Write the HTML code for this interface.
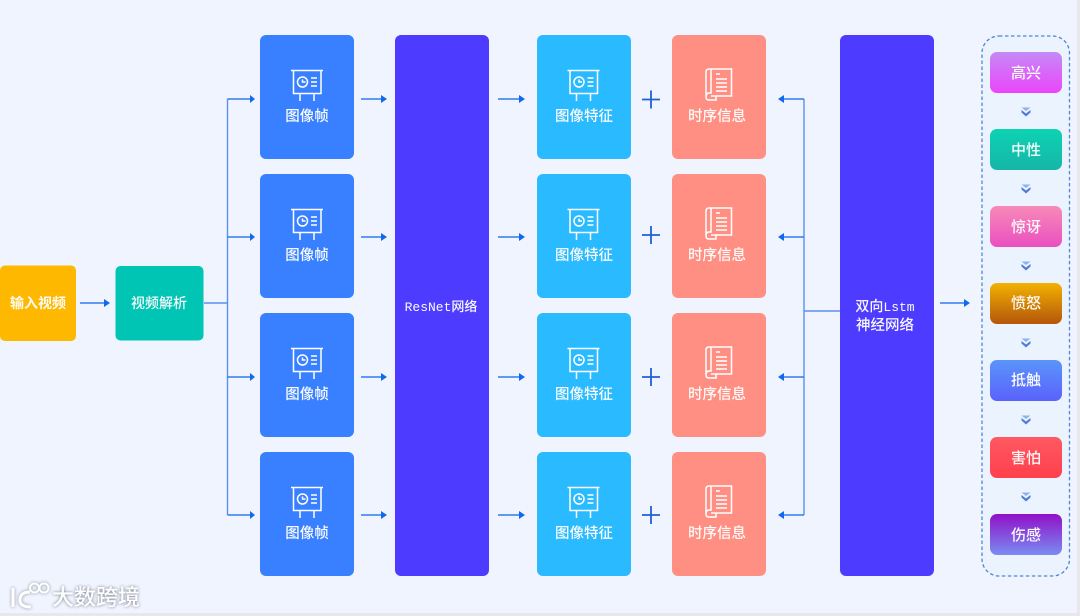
<!DOCTYPE html>
<html lang="zh"><head><meta charset="utf-8"><title>视频情感识别流程</title>
<style>
html,body{margin:0;padding:0;background:#f0f4ff}
svg{display:block;font-size:14.5px;filter:blur(.3px)}
text{font-family:"Liberation Sans","Noto Sans CJK SC",sans-serif;fill:#fff;text-anchor:middle;opacity:.97;font-weight:500}
.m{font-family:"Liberation Mono","Noto Sans CJK SC",monospace}
.l{stroke:#5b8ff0;stroke-width:1.4;fill:none}
.a{stroke:#2f7bf0;stroke-width:1.4;fill:none}
.h{fill:#0f6af0}
.i{stroke:#fff;stroke-width:1.5;fill:none}
</style></head><body>
<svg width="1080" height="616" viewBox="0 0 1080 616" xmlns="http://www.w3.org/2000/svg">
<defs>
<g id="pic" class="i"><path d="M-16 -15.500H16M-13.500 -15.500V7.500H14V-15.500M-7 8V15M7 8V15"/><circle cx="-4.500" cy="-4" r="5"/><path d="M-4.500 -6.500V-4H-1.500M4 -8H10M4 -4H10M4 0H10"/></g>
<g id="book" class="i"><path d="M-8 -15H12.500V12H-8M-8 -15H-10Q-13 -15 -13 -12V13M-8 -15V9H-10Q-13 9 -13 13Q-13 16 -10 16H-3V12"/><path d="M-3 -10H1M-3 -5H8M-3 -1H8M-3 3H8M-3 7H8"/></g>
<g id="dbl"><path d="M-4.500 -4.500H4.500L0 -1Z" fill="#8fb0ea"/><path d="M-4.500 -2L0 1.500L4.500 -2V0.500L0 4.500L-4.500 0.500Z" fill="#4f7bd8"/></g>
<linearGradient id="g1" x1="0" y1="0" x2="0" y2="1"><stop offset="0" stop-color="#c58af5"/><stop offset="1" stop-color="#ea45fb"/></linearGradient>
<linearGradient id="g2" x1="0" y1="0" x2="0" y2="1"><stop offset="0" stop-color="#0dd3b3"/><stop offset="1" stop-color="#16b5a8"/></linearGradient>
<linearGradient id="g3" x1="0" y1="0" x2="0" y2="1"><stop offset="0" stop-color="#f78ab8"/><stop offset="1" stop-color="#ea4fc0"/></linearGradient>
<linearGradient id="g4" x1="0" y1="0" x2="0" y2="1"><stop offset="0" stop-color="#f2b200"/><stop offset="1" stop-color="#b4560c"/></linearGradient>
<linearGradient id="g5" x1="0" y1="0" x2="0" y2="1"><stop offset="0" stop-color="#5a94fb"/><stop offset="1" stop-color="#5a62fb"/></linearGradient>
<linearGradient id="g6" x1="0" y1="0" x2="0" y2="1"><stop offset="0" stop-color="#ff5a62"/><stop offset="1" stop-color="#ff3f4c"/></linearGradient>
<linearGradient id="g7" x1="0" y1="0" x2="0" y2="1"><stop offset="0" stop-color="#9010c8"/><stop offset="1" stop-color="#7a8cf2"/></linearGradient>
</defs>
<rect width="1080" height="616" fill="#f0f4ff"/>
<rect x="1077" width="3" height="616" fill="#e8e8ea"/>
<rect y="613" width="1080" height="3" fill="#e8e8ea"/>

<!-- left boxes -->
<rect x="0" y="265.500" width="76" height="75.500" rx="5" fill="#ffb800"/>
<text x="38" y="308" font-size="14" style="font-weight:bold">输入视频</text>
<rect x="115.500" y="266" width="88" height="74.500" rx="5" fill="#00c4b4"/>
<text x="159" y="308" font-size="14">视频解析</text>
<path class="a" d="M80 303H104"/><path class="h" d="M104 299L110 303L104 307Z"/>

<!-- splitter -->
<path class="l" d="M204 303H227.500M227.500 99V515"/>
<g class="a"><path d="M227.500 99H250M227.500 237H250M227.500 377H250M227.500 515H250"/></g>
<g class="h"><path d="M250 95L255 99L250 103ZM250 233L255 237L250 241ZM250 373L255 377L250 381ZM250 511L255 515L250 519Z"/></g>

<!-- image frames -->
<g fill="#3880ff">
<rect x="260" y="35" width="94" height="124" rx="6"/><rect x="260" y="174" width="94" height="124" rx="6"/><rect x="260" y="313" width="94" height="124" rx="6"/><rect x="260" y="452" width="94" height="124" rx="6"/>
</g>
<use href="#pic" x="307" y="86"/><use href="#pic" x="307" y="225"/><use href="#pic" x="307" y="364"/><use href="#pic" x="307" y="503"/>
<text x="307" y="121">图像帧</text><text x="307" y="260">图像帧</text><text x="307" y="399">图像帧</text><text x="307" y="538">图像帧</text>

<!-- arrows frame->resnet -->
<g class="a"><path d="M361 99H381M361 237H381M361 377H381M361 515H381"/></g>
<g class="h"><path d="M381 95L387 99L381 103ZM381 233L387 237L381 241ZM381 373L387 377L381 381ZM381 511L387 515L381 519Z"/></g>

<rect x="395" y="35" width="94" height="541" rx="6" fill="#4d3bff"/>
<text x="441" y="311" class="m" font-size="13">ResNet网络</text>

<g class="a"><path d="M498 99H519M498 237H519M498 377H519M498 515H519"/></g>
<g class="h"><path d="M519 95L525 99L519 103ZM519 233L525 237L519 241ZM519 373L525 377L519 381ZM519 511L525 515L519 519Z"/></g>

<!-- image features -->
<g fill="#29baff">
<rect x="537" y="35" width="94" height="124" rx="6"/><rect x="537" y="174" width="94" height="124" rx="6"/><rect x="537" y="313" width="94" height="124" rx="6"/><rect x="537" y="452" width="94" height="124" rx="6"/>
</g>
<use href="#pic" x="583.500" y="86"/><use href="#pic" x="583.500" y="225"/><use href="#pic" x="583.500" y="364"/><use href="#pic" x="583.500" y="503"/>
<text x="584" y="121">图像特征</text><text x="584" y="260">图像特征</text><text x="584" y="399">图像特征</text><text x="584" y="538">图像特征</text>

<!-- plus -->
<g stroke="#1f5fdc" stroke-width="1.800" fill="none"><path d="M642 99.500H660M651 90.500V108.500M642 235H660M651 226V244M642 377H660M651 368V386M642 515H660M651 506V524"/></g>

<!-- time info -->
<g fill="#ff8f82">
<rect x="672" y="35" width="94" height="124" rx="6"/><rect x="672" y="174" width="94" height="124" rx="6"/><rect x="672" y="313" width="94" height="124" rx="6"/><rect x="672" y="452" width="94" height="124" rx="6"/>
</g>
<use href="#book" x="719" y="84"/><use href="#book" x="719" y="223"/><use href="#book" x="719" y="362"/><use href="#book" x="719" y="501"/>
<text x="717" y="121">时序信息</text><text x="717" y="260">时序信息</text><text x="717" y="399">时序信息</text><text x="717" y="538">时序信息</text>

<!-- lstm connectors -->
<path class="l" d="M840 311H804M804 99V515"/>
<g class="a"><path d="M804 99H784M804 237H784M804 377H784M804 515H784"/></g>
<g class="h"><path d="M784 95L778 99L784 103ZM784 233L778 237L784 241ZM784 373L778 377L784 381ZM784 511L778 515L784 519Z"/></g>

<rect x="840" y="35" width="94" height="541" rx="6" fill="#4d3bff"/>
<text x="885" y="311" font-size="14">双向<tspan class="m" font-size="13">Lstm</tspan></text>
<text x="885" y="330" font-size="14.500">神经网络</text>

<path class="a" d="M940 303H964"/><path class="h" d="M964 299L970 303L964 307Z"/>

<!-- emotion column -->
<rect x="982" y="36" width="87.500" height="540" rx="17" fill="#ebf3ff" stroke="#4f86d8" stroke-width="1.300" stroke-dasharray="3.500 2.500"/>
<rect x="990" y="52" width="72" height="41" rx="7" fill="url(#g1)"/>
<rect x="990" y="129" width="72" height="41" rx="7" fill="url(#g2)"/>
<rect x="990" y="206" width="72" height="41" rx="7" fill="url(#g3)"/>
<rect x="990" y="283" width="72" height="41" rx="7" fill="url(#g4)"/>
<rect x="990" y="360" width="72" height="41" rx="7" fill="url(#g5)"/>
<rect x="990" y="437" width="72" height="41" rx="7" fill="url(#g6)"/>
<rect x="990" y="514" width="72" height="41" rx="7" fill="url(#g7)"/>
<text x="1026" y="78" font-size="15">高兴</text>
<text x="1026" y="155" font-size="15">中性</text>
<text x="1026" y="232" font-size="15">惊讶</text>
<text x="1026" y="308" font-size="15">愤怒</text>
<text x="1026" y="385" font-size="15">抵触</text>
<text x="1026" y="463" font-size="15">害怕</text>
<text x="1026" y="540" font-size="15">伤感</text>
<use href="#dbl" x="1026" y="112"/><use href="#dbl" x="1026" y="189"/><use href="#dbl" x="1026" y="266"/><use href="#dbl" x="1026" y="343"/><use href="#dbl" x="1026" y="420"/><use href="#dbl" x="1026" y="497"/>

<!-- watermark -->
<g stroke="#fff" fill="none" stroke-width="3" style="filter:drop-shadow(0 0 1.500px #8a909c)">
<path d="M13 588V607M30 592Q20 592 20 600Q20 607 31 607"/>
<circle cx="34.500" cy="588" r="4.500" stroke-width="2"/><circle cx="44" cy="588" r="4.500" stroke-width="2"/>
</g>
<text x="96" y="605" font-size="22" style="fill:#fff;filter:drop-shadow(0 0 1.500px #6e7480)">大数跨境</text>
</svg>
</body></html>
